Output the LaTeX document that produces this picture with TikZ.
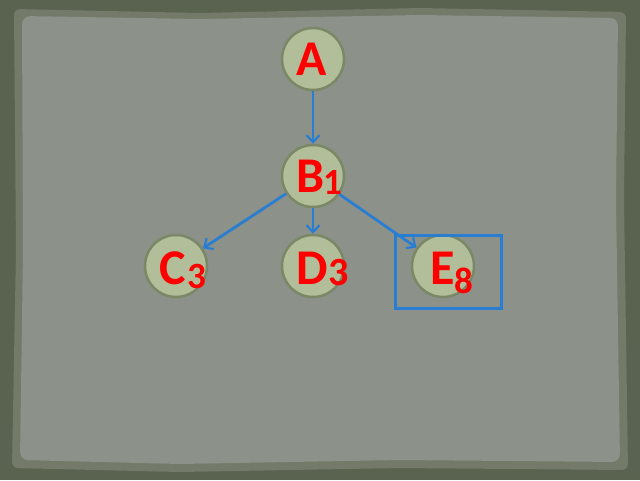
\documentclass[tikz,border=0pt]{standalone}
\usepackage{fontspec}
\setmainfont{Carlito}
\usetikzlibrary{arrows.meta}
\definecolor{outerbg}{HTML}{5A6250}
\definecolor{edgebg}{HTML}{737A6A}
\definecolor{paper}{HTML}{8C918A}
\definecolor{circfill}{HTML}{B2BE9A}
\definecolor{circline}{HTML}{7A8866}
\definecolor{linkblue}{HTML}{2A7ED2}
\definecolor{txtred}{HTML}{FF0000}
\tikzset{
  circ/.style={circle, fill=circfill, draw=circline, line width=2.5pt, minimum size=62pt, inner sep=0pt},
  bigl/.style={text=txtred, font=\fontsize{50}{50}\selectfont\bfseries, inner sep=0pt, anchor=base west},
  subl/.style={text=txtred, font=\fontsize{37}{37}\selectfont\bfseries, inner sep=0pt, anchor=base west},
  link/.style={draw=linkblue, line width=2.8pt, -{Straight Barb[length=7pt,width=13pt,line width=2.2pt]}},
  selbox/.style={draw=linkblue, line width=3pt}
}
\begin{document}
\begin{tikzpicture}[x=1pt,y=-1pt]
\useasboundingbox (0,0) rectangle (640,480);
% background
\fill[outerbg] (0,0) rectangle (640,480);
\fill[edgebg, rounded corners=6pt] (14,9) -- (200,13) -- (420,8) -- (626,12) -- (624,200) -- (628,470) -- (400,468) -- (180,472) -- (12,468) -- (16,250) -- cycle;
\fill[paper, rounded corners=8pt] (22,16) -- (200,19) -- (420,15) -- (618,18) -- (616,200) -- (620,462) -- (400,460) -- (180,464) -- (20,460) -- (23,250) -- cycle;
% circles
\node[circ] (A) at (313,59) {};
\node[circ] (B) at (313,176) {};
\node[circ] (C) at (176,266) {};
\node[circ] (D) at (313,266) {};
\node[circ] (E) at (443,266) {};
% labels
\node[bigl] (At) at (296,75) {A};
\node[bigl] (Bt) at (296,192) {B};
\node[subl] (Bs) at (323,194) {1};
\node[bigl] (Ct) at (159,284) {C};
\node[subl] (Cs) at (187,288) {3};
\node[bigl] (Dt) at (296,284) {D};
\node[font=\fontsize{40}{40}\selectfont\bfseries, text=txtred, inner sep=0pt, anchor=base west] (Ds) at (328,285) {3};
\node[bigl] (Et) at (430,284) {E};
\node[subl] (Es) at (454,293) {8};
% connectors
\draw[link] (A) -- (B);
\draw[link] (B) -- (C);
\draw[link] (B) -- (D);
\draw[link] (B) -- (E);
% selection box
\coordinate (boxNW) at (395,235);
\coordinate (boxSE) at (501,308);
\draw[selbox] (boxNW) rectangle (boxSE);
\end{tikzpicture}
\end{document}
